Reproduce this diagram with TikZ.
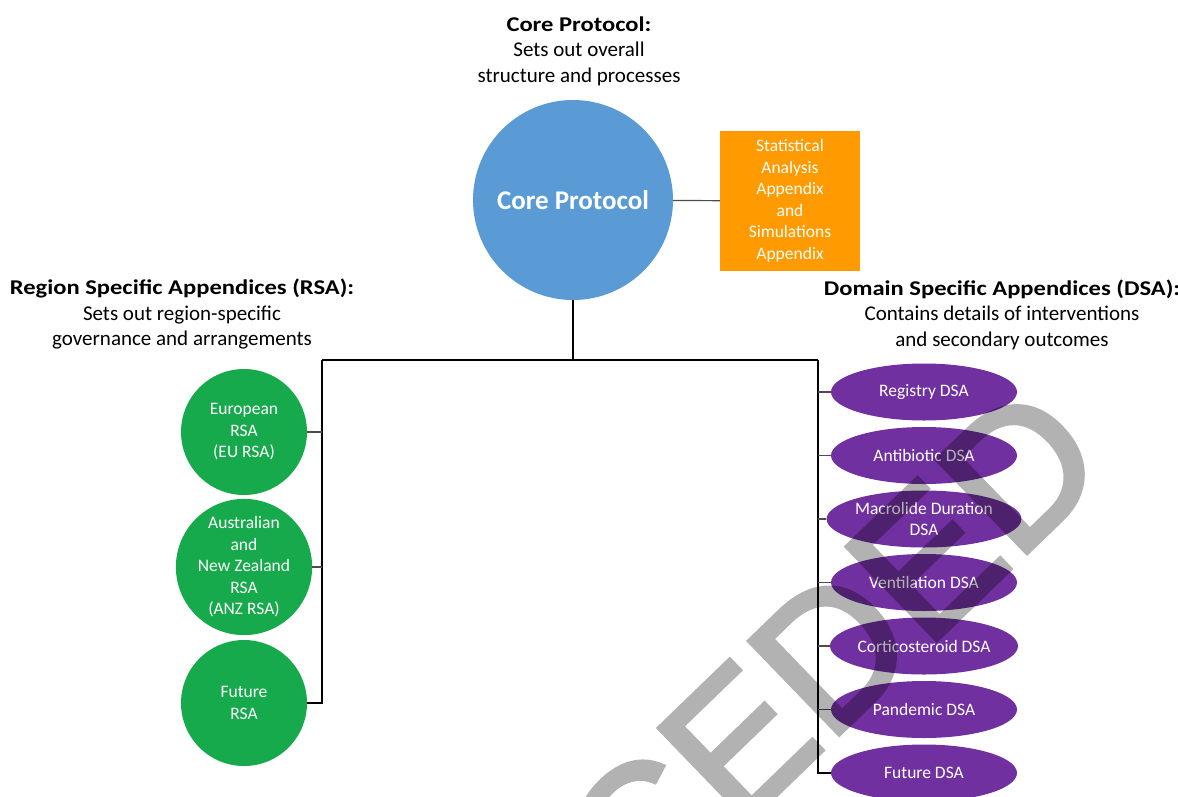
\documentclass[tikz,border=0pt]{standalone}
\usepackage{fontspec}
\setmainfont{Carlito}
\newfontfamily\headfont[FakeStretch=1.17]{Carlito}
\newfontfamily\wmfont[FakeBold=2.5]{Liberation Sans}
\usetikzlibrary{shapes.geometric}

\definecolor{coreblue}{RGB}{91,155,213}
\definecolor{sapor}{RGB}{255,155,0}
\definecolor{rsagreen}{RGB}{22,170,76}
\definecolor{dsapurple}{RGB}{112,48,160}

\tikzset{
  heading/.style={align=center, font=\fontsize{21}{25.5}\selectfont},
  core/.style={circle, fill=coreblue, minimum size=200pt, inner sep=0pt, text=white,
    font=\bfseries\fontsize{27}{32}\selectfont},
  sapbox/.style={rectangle, fill=sapor, minimum width=140pt, minimum height=140pt,
    text width=130pt, align=center, text=white, font=\fontsize{17.5}{21.5}\selectfont},
  rsa/.style={circle, fill=rsagreen, minimum size=126pt, inner sep=0pt, text=white,
    align=center, font=\fontsize{17.5}{21.5}\selectfont},
  dsa/.style={ellipse, fill=dsapurple, minimum width=186pt, minimum height=57pt,
    inner sep=0pt, text=white, align=center, font=\fontsize{17.5}{21.5}\selectfont},
  trunk/.style={black, line width=1.6pt},
  branch/.style={black!70, line width=1.2pt},
  watermark/.style={black, font=\wmfont\fontsize{188}{188}\selectfont}
}

\begin{document}
\begin{tikzpicture}[x=1pt, y=-1pt]
  \useasboundingbox (0,0) rectangle (1178,796);

  % headings
  \node [heading] (coretitle) at (579,51) {{\headfont\bfseries Core Protocol:}\\ Sets out overall\\ structure and processes};
  \node [heading] (rsatitle) at (182,314.5) {{\headfont\bfseries Region Specific Appendices (RSA):}\\ Sets out region-specific\\ governance and arrangements};
  \node [heading] (dsatitle) at (1002,314.5) {{\headfont\bfseries Domain Specific Appendices (DSA):}\\ Contains details of interventions\\ and secondary outcomes};

  % core protocol and statistical appendix
  \node [core] (core) at (573,200) {Core Protocol};
  \node [sapbox] (sap) at (790,201) {Statistical\\ Analysis\\ Appendix\\ and\\ Simulations\\ Appendix};
  \draw [branch] (core) -- (sap);

  % region specific appendices
  \node [rsa] (eursa) at (244,432) {European\\ RSA\\ (EU RSA)};
  \node [rsa] (anzrsa) at (244,567) {Australian\\ and\\ New Zealand\\ RSA\\ (ANZ RSA)};
  \node [rsa] (futrsa) at (244,703) {Future\\ RSA};

  % domain specific appendices
  \foreach \name/\txt [count=\i] in {regdsa/Registry DSA, abxdsa/Antibiotic DSA,
      macdsa/{Macrolide Duration\\ DSA}, ventdsa/Ventilation DSA,
      cortdsa/Corticosteroid DSA, pandsa/Pandemic DSA, futdsa/Future DSA}
    \node [dsa] (\name) at (924,{392+63.5*(\i-1)}) {\txt};

  % tree
  \coordinate (hub) at (573,360);
  \coordinate (lt) at (322,360);
  \coordinate (rt) at (818,360);
  \draw [trunk] (core.south) -- (hub);
  \draw [trunk] (lt) -- (rt);
  \draw [trunk] (lt) |- (futrsa.east);
  \draw [branch] (eursa.east) -- (eursa.east -| lt);
  \draw [branch] (anzrsa.east) -- (anzrsa.east -| lt);
  \draw [trunk] (rt) |- (futdsa.west);
  \foreach \name in {regdsa,abxdsa,macdsa,ventdsa,cortdsa,pandsa}
    \draw [branch] (\name.west) -- (\name.west -| rt);

  % watermark
  \begin{scope}[transparency group, opacity=0.3]
    \node [watermark, rotate=44] (stamp) at (832,651) {CEDED};
  \end{scope}
\end{tikzpicture}
\end{document}
